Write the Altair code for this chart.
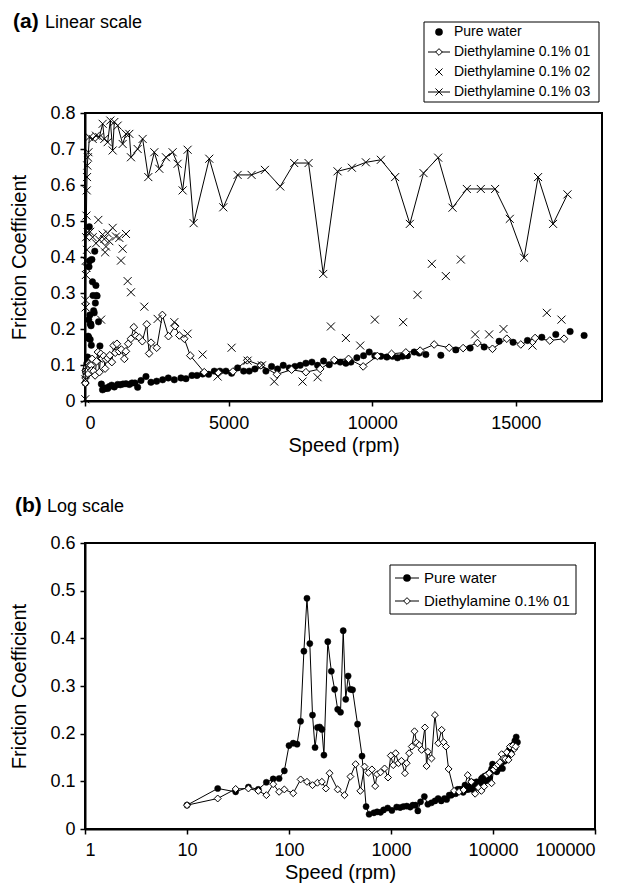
import altair as alt
import pandas as pd

# ---------------- data ----------------
pw_speed = [10, 20, 30, 40, 50, 60, 70, 80, 90, 100, 110, 120, 130, 140, 150, 160, 170, 180, 190, 200,
            210, 220, 240, 260, 280, 300, 320, 340, 360, 380, 400, 420, 470, 520, 570, 610,
            680, 731, 790, 847, 928, 1021, 1137, 1230, 1322, 1427, 1543, 1636, 1740, 1833, 1949,
            2123, 2297, 2494, 2703, 2900, 3109, 3341, 3515, 3724, 3898, 4095, 4304, 4500, 4698, 4907,
            5104, 5313, 5522, 5718, 5916, 6125, 6299, 6496, 6705, 6902, 7110, 7308, 7493, 7691, 7900,
            8097, 8306, 8503, 8700, 8886, 9083, 9257, 9466, 9698, 9895, 10092, 10301, 10510, 10707, 10881,
            11055, 11229, 11461, 11635, 11867, 12389, 12911, 13410, 13897, 14418,
            14905, 15405, 15904, 16391, 16890, 17377]
pw_cf = [0.050, 0.085, 0.078, 0.088, 0.083, 0.098, 0.105, 0.106, 0.122, 0.175, 0.180, 0.178, 0.226, 0.373,
         0.484, 0.389, 0.239, 0.171, 0.213, 0.214, 0.209, 0.155, 0.393, 0.331, 0.293, 0.251, 0.245, 0.416,
         0.272, 0.321, 0.293, 0.292, 0.220, 0.153, 0.047, 0.031,
         0.034, 0.036, 0.035, 0.040, 0.044, 0.039, 0.046, 0.045, 0.047, 0.048, 0.046, 0.050, 0.050, 0.038, 0.057,
         0.068, 0.052, 0.055, 0.059, 0.064, 0.059, 0.064, 0.062, 0.071, 0.071, 0.075, 0.074, 0.083, 0.083, 0.083,
         0.077, 0.092, 0.083, 0.083, 0.089, 0.099, 0.083, 0.096, 0.089, 0.099, 0.092, 0.096, 0.099, 0.105, 0.108,
         0.099, 0.111, 0.101, 0.111, 0.108, 0.105, 0.108, 0.120, 0.126, 0.136, 0.126, 0.124, 0.122, 0.124, 0.120,
         0.124, 0.126, 0.136, 0.133, 0.129, 0.127, 0.142, 0.147, 0.150, 0.166,
         0.163, 0.168, 0.177, 0.185, 0.193, 0.182]

d01_speed = [10, 20, 30, 40, 50, 60, 70, 80, 90, 110, 130, 150, 170, 190, 210, 230, 250,
             300, 350, 400, 450, 500, 550, 600, 650, 700, 730, 790, 865, 935, 995,
             1052, 1111, 1185, 1266, 1370, 1425, 1506, 1598, 1700, 1780, 1892, 1995, 2150, 2233, 2300,
             2497, 2694, 2906, 3138, 3283, 3457, 3666, 4152, 4650, 5150, 5650, 6125, 6682, 7192,
             7691, 8189, 8677, 9176, 9685, 10180, 10673, 11170, 11669, 12156,
             12678, 13165, 13665, 14187, 14686, 15173, 15671, 16182, 16680]
d01_cf = [0.050, 0.064, 0.084, 0.085, 0.080, 0.071, 0.094, 0.078, 0.083, 0.075, 0.104, 0.099, 0.092, 0.097,
          0.099, 0.085, 0.117, 0.083, 0.071, 0.110, 0.136, 0.080, 0.131, 0.118, 0.125, 0.090, 0.115, 0.119,
          0.127, 0.108, 0.154, 0.134, 0.159, 0.138, 0.143, 0.117, 0.138, 0.159, 0.173, 0.205, 0.181, 0.176,
          0.166, 0.213, 0.132, 0.162, 0.148, 0.239, 0.180, 0.208, 0.182, 0.173, 0.126, 0.080, 0.078, 0.082,
          0.113, 0.099, 0.074, 0.087, 0.080, 0.089, 0.114, 0.117, 0.096, 0.125, 0.131, 0.135, 0.140, 0.157,
          0.148, 0.147, 0.161, 0.145, 0.173, 0.157, 0.175, 0.168, 0.173]

d02_speed = [10, 20, 30, 50, 70, 93, 180, 267, 383, 464, 499, 560, 615, 673, 700, 731, 789, 847, 963, 1079,
             1195, 1253, 1311, 1427, 1485, 1601, 2065, 2529, 3109, 3573, 4095, 4617, 5104, 5660, 6160, 6588,
             7575, 8097, 8561, 9083, 9582, 10092, 11077, 11578, 12076, 12563, 13085, 13583, 14070, 14570,
             15579, 16078, 16589]
d02_cf = [0.005, 0.28, 0.35, 0.37, 0.42, 0.469, 0.47, 0.455, 0.438, 0.503, 0.448, 0.226, 0.462, 0.450, 0.413,
          0.429, 0.466, 0.444, 0.481, 0.457, 0.453, 0.390, 0.423, 0.464, 0.333, 0.302, 0.262, 0.228, 0.219,
          0.187, 0.129, 0.068, 0.148, 0.112, 0.099, 0.054, 0.054, 0.066, 0.207, 0.175, 0.154, 0.226, 0.219,
          0.295, 0.381, 0.347, 0.393, 0.185, 0.185, 0.200, 0.154, 0.245, 0.226]

d03_speed = [10, 20, 30, 40, 50, 60, 70, 80, 100, 120, 151, 267, 383, 499, 615, 673, 789, 882, 963, 1021,
             1137, 1311, 1427, 1543, 1601, 1833, 2007, 2204, 2413, 2587, 2819, 3051, 3225, 3399, 3573, 3782,
             4327, 4814, 5313, 5800, 6264, 6797, 7284, 7784, 8294, 8793, 9292, 9779, 10301, 10798,
             11310, 11786, 12296, 12796, 13294, 13781, 14279, 14790, 15288, 15775, 16297, 16798]
d03_cf = [0.06, 0.26, 0.39, 0.455, 0.515, 0.585, 0.622, 0.654, 0.677, 0.691, 0.733, 0.728, 0.737, 0.733,
          0.770, 0.728, 0.719, 0.779, 0.696, 0.775, 0.765, 0.714, 0.742, 0.742, 0.677, 0.700, 0.728, 0.622,
          0.691, 0.645, 0.677, 0.691, 0.659, 0.585, 0.698, 0.494, 0.673, 0.538, 0.628, 0.628, 0.642, 0.596,
          0.661, 0.661, 0.353, 0.638, 0.648, 0.663, 0.670, 0.622, 0.492, 0.633, 0.676, 0.537, 0.589, 0.589,
          0.589, 0.506, 0.398, 0.622, 0.492, 0.574]

legend_a = ["Pure water", "Diethylamine 0.1% 01", "Diethylamine 0.1% 02", "Diethylamine 0.1% 03"]
legend_b = ["Pure water", "Diethylamine 0.1% 01"]

top_x_ticks = [0, 5000, 10000, 15000]
top_y_ticks = [0, 0.1, 0.2, 0.3, 0.4, 0.5, 0.6, 0.7, 0.8]
bot_x_ticks = [1, 10, 100, 1000, 10000, 100000]
bot_y_ticks = [0, 0.1, 0.2, 0.3, 0.4, 0.5, 0.6]

# ---------------- styling ----------------
FONT = "Liberation Sans"
XPATH = "M-1,-1L1,1M-1,1L1,-1"


def frame(s, c):
    return pd.DataFrame({"speed": s, "cf": c})


pw = frame(pw_speed, pw_cf)
d01 = frame(d01_speed, d01_cf)
d02 = frame(d02_speed, d02_cf)
d03 = frame(d03_speed, d03_cf)


def dots(data, x, y, size=42):
    return alt.Chart(data).mark_point(shape="circle", filled=True, fill="black", stroke="black",
                                      strokeWidth=0.5, size=size, opacity=1).encode(x=x, y=y)


def diamonds(data, x, y, size=58):
    return alt.Chart(data).mark_point(shape="diamond", filled=True, fill="white", stroke="black",
                                      strokeWidth=1, size=size, opacity=1).encode(x=x, y=y)


def crosses(data, x, y, size=64):
    return alt.Chart(data).mark_point(shape=XPATH, filled=False, stroke="black",
                                      strokeWidth=1, size=size, opacity=1).encode(x=x, y=y)


def line(data, x, y):
    return alt.Chart(data).mark_line(color="black", strokeWidth=1).encode(x=x, y=y)


def symbol_mark(kind, lbl, cx, cy):
    d = pd.DataFrame({"label": [lbl]})
    if kind == "dot":
        m = alt.Chart(d).mark_point(shape="circle", filled=True, fill="black", stroke="black", size=32, opacity=1)
    elif kind == "diamond":
        m = alt.Chart(d).mark_point(shape="diamond", filled=True, fill="white", stroke="black",
                                    strokeWidth=1, size=45, opacity=1)
    else:
        m = alt.Chart(d).mark_point(shape=XPATH, filled=False, stroke="black", strokeWidth=1, size=50, opacity=1)
    return m.encode(x=alt.value(cx), y=alt.value(cy))


def legend(labels, kinds, lines, box, x0, x1, xt, y0, dy, fs):
    d = pd.DataFrame({"label": [labels[0]]})
    layers = [alt.Chart(d).mark_rect(fill="white", stroke="black", strokeWidth=1).encode(
        x=alt.value(box[0]), x2=alt.value(box[1]), y=alt.value(box[2]), y2=alt.value(box[3]))]
    for i, lbl in enumerate(labels):
        yy = y0 + i * dy
        dd = pd.DataFrame({"label": [lbl]})
        if lines[i]:
            layers.append(alt.Chart(dd).mark_rule(color="black", strokeWidth=1).encode(
                x=alt.value(x0), x2=alt.value(x1), y=alt.value(yy)))
        layers.append(symbol_mark(kinds[i], lbl, (x0 + x1) / 2, yy))
        layers.append(alt.Chart(dd).mark_text(align="left", baseline="middle", font=FONT, fontSize=fs,
                                              color="black").encode(
            x=alt.value(xt), y=alt.value(yy), text="label:N"))
    return layers


def heading(tag, text, x, y, x2):
    d = pd.DataFrame({"t": [tag], "s": [text]})
    a = alt.Chart(d).mark_text(align="left", baseline="alphabetic", font=FONT, fontSize=21,
                               fontWeight="bold", color="black").encode(
        x=alt.value(x), y=alt.value(y), text="t:N")
    b = alt.Chart(d).mark_text(align="left", baseline="alphabetic", font=FONT, fontSize=18,
                               color="black").encode(
        x=alt.value(x2), y=alt.value(y), text="s:N")
    return [a, b]


# ---------------- top panel (linear) ----------------
W1, H1 = 517, 288
x1 = alt.X("speed:Q", scale=alt.Scale(domain=[0, 18000], nice=False, zero=False),
           axis=alt.Axis(values=top_x_ticks, format="d", title="Speed (rpm)",
                         labelPadding=8, titlePadding=3))
y1 = alt.Y("cf:Q", scale=alt.Scale(domain=[0, 0.8], nice=False),
           axis=alt.Axis(values=top_y_ticks, format=".1~f", title="Friction Coefficient",
                         labelPadding=5, titlePadding=20))

top_layers = [
    dots(pw, x1, y1),
    line(d01, x1, y1),
    diamonds(d01, x1, y1),
    crosses(d02, x1, y1),
    line(d03, x1, y1),
    crosses(d03, x1, y1),
]
top_layers += legend(legend_a, ["dot", "diamond", "cross", "cross"], [False, True, False, True],
                     (339, 514, -91, -11), 343, 365, 369, -81, 20, 14)
top_layers += heading("(a)", "Linear scale", -72, -85, -40)
top = alt.layer(*top_layers).properties(width=W1, height=H1)

# ---------------- bottom panel (log) ----------------
W2, H2 = 510, 286
x2 = alt.X("speed:Q", scale=alt.Scale(type="log", domain=[1, 100000], nice=False),
           axis=alt.Axis(values=bot_x_ticks, format="d", title="Speed (rpm)",
                         labelPadding=7, titlePadding=3))
y2 = alt.Y("cf:Q", scale=alt.Scale(domain=[0, 0.6], nice=False),
           axis=alt.Axis(values=bot_y_ticks, format=".1~f", title="Friction Coefficient",
                         labelPadding=5, titlePadding=20))

bot_layers = [
    line(pw, x2, y2),
    dots(pw, x2, y2, size=38),
    line(d01, x2, y2),
    diamonds(d01, x2, y2, size=48),
]
bot_layers += legend(legend_b, ["dot", "diamond"], [True, True],
                     (305, 491, 22, 71), 310, 334, 339, 35, 23, 15)
bot_layers += heading("(b)", "Log scale", -70, -31, -38)
bottom = alt.layer(*bot_layers).properties(width=W2, height=H2)

chart = alt.vconcat(top, bottom, spacing=38).properties(
    padding={"left": 0, "top": 2, "right": 0, "bottom": 0}, background="white"
).configure_view(stroke="black", strokeWidth=2).configure_axis(
    grid=False, domainColor="black", domainWidth=2, tickColor="black", tickWidth=1.5, tickSize=5,
    labelFont=FONT, labelFontSize=18, labelColor="black",
    titleFont=FONT, titleFontSize=20, titleFontWeight="normal", titleColor="black"
)

chart.save("out.html", embed_options={"renderer": "svg", "actions": False})
